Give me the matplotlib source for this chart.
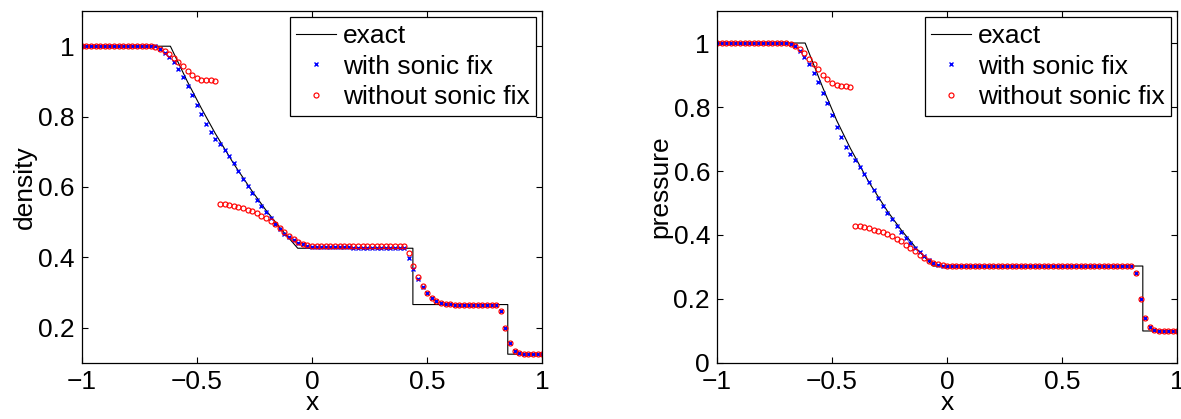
import numpy as np
import matplotlib.pyplot as plt

plt.rcParams["font.family"] = ["Liberation Sans", "DejaVu Sans"]

# -------------------------------------------------
# Data (grid x = -1 : 0.02 : 1)
# -------------------------------------------------

x_grid = np.linspace(-1.0, 1.0, 101)

density_fix = (
    [1.0] * 16
    + [1.0, 0.993, 0.982, 0.968, 0.954, 0.935, 0.912, 0.887, 0.861, 0.834,
       0.807, 0.780, 0.755, 0.735, 0.721, 0.706, 0.687, 0.667, 0.646, 0.624,
       0.602, 0.582, 0.563, 0.546, 0.529, 0.512, 0.495, 0.481, 0.467, 0.457,
       0.448, 0.442, 0.437, 0.433, 0.430, 0.429, 0.429, 0.429, 0.429, 0.429,
       0.429, 0.429, 0.429, 0.428, 0.428, 0.428, 0.428, 0.428, 0.427, 0.427,
       0.427, 0.427, 0.426, 0.426, 0.426, 0.399, 0.366, 0.338, 0.317, 0.299,
       0.286, 0.277, 0.271, 0.268, 0.267, 0.266, 0.266, 0.266, 0.266, 0.266,
       0.266, 0.266, 0.266, 0.266, 0.266, 0.249, 0.198, 0.157, 0.135, 0.128,
       0.126, 0.125, 0.125, 0.125, 0.125]
)

density_nofix = (
    [1.0] * 16
    + [0.999, 0.993, 0.986, 0.977, 0.967, 0.955, 0.943, 0.931, 0.919, 0.911,
       0.905, 0.904, 0.903, 0.901, 0.551, 0.551, 0.549, 0.546, 0.543, 0.540,
       0.536, 0.532, 0.526, 0.519, 0.512, 0.503, 0.494, 0.483, 0.472, 0.462,
       0.451, 0.443, 0.437, 0.434, 0.432, 0.433, 0.433, 0.433, 0.433, 0.433,
       0.433, 0.433, 0.433, 0.433, 0.433, 0.433, 0.433, 0.433, 0.433, 0.433,
       0.433, 0.433, 0.433, 0.433, 0.433, 0.412, 0.376, 0.345, 0.318, 0.299,
       0.286, 0.277, 0.271, 0.268, 0.267, 0.266, 0.266, 0.266, 0.266, 0.266,
       0.266, 0.266, 0.266, 0.266, 0.266, 0.249, 0.198, 0.157, 0.135, 0.128,
       0.126, 0.125, 0.125, 0.125, 0.125]
)

pressure_fix = (
    [1.0] * 16
    + [0.997, 0.990, 0.974, 0.955, 0.933, 0.906, 0.877, 0.845, 0.812, 0.775,
       0.739, 0.705, 0.675, 0.654, 0.634, 0.614, 0.591, 0.567, 0.540, 0.515,
       0.491, 0.468, 0.449, 0.428, 0.409, 0.392, 0.376, 0.360, 0.347, 0.334,
       0.323, 0.312, 0.307, 0.304, 0.303, 0.303, 0.303, 0.303, 0.303, 0.303,
       0.303, 0.303, 0.303, 0.303, 0.303, 0.303, 0.303, 0.303, 0.303, 0.303,
       0.303, 0.303, 0.303, 0.303, 0.303, 0.303, 0.303, 0.303, 0.303, 0.303,
       0.303, 0.303, 0.303, 0.303, 0.303, 0.303, 0.303, 0.303, 0.303, 0.303,
       0.303, 0.303, 0.303, 0.303, 0.303, 0.280, 0.201, 0.142, 0.112, 0.102,
       0.100, 0.100, 0.100, 0.100, 0.100]
)

pressure_nofix = (
    [1.0] * 16
    + [0.997, 0.991, 0.981, 0.968, 0.951, 0.934, 0.918, 0.900, 0.886, 0.874,
       0.868, 0.866, 0.866, 0.864, 0.428, 0.427, 0.425, 0.422, 0.417, 0.413,
       0.408, 0.403, 0.397, 0.389, 0.380, 0.369, 0.359, 0.349, 0.338, 0.329,
       0.320, 0.313, 0.309, 0.306, 0.304, 0.304, 0.304, 0.304, 0.304, 0.304,
       0.304, 0.304, 0.304, 0.304, 0.304, 0.304, 0.304, 0.304, 0.304, 0.304,
       0.304, 0.304, 0.304, 0.304, 0.304, 0.304, 0.304, 0.304, 0.304, 0.304,
       0.304, 0.304, 0.304, 0.304, 0.304, 0.304, 0.304, 0.304, 0.304, 0.304,
       0.304, 0.304, 0.304, 0.304, 0.304, 0.280, 0.201, 0.142, 0.112, 0.102,
       0.100, 0.100, 0.100, 0.100, 0.100]
)

exact_x_density = [-1.0, -0.615, -0.54, -0.48, -0.42, -0.34, -0.26, -0.20,
                   -0.13, -0.062, 0.438, 0.438, 0.850, 0.850, 1.0]
exact_density = [1.0, 1.0, 0.898, 0.823, 0.752, 0.666, 0.588, 0.534,
                 0.477, 0.426, 0.426, 0.266, 0.266, 0.125, 0.125]

exact_x_pressure = [-1.0, -0.617, -0.54, -0.48, -0.42, -0.34, -0.26, -0.20,
                    -0.13, -0.061, 0.850, 0.850, 1.0]
exact_pressure = [1.0, 1.0, 0.860, 0.758, 0.670, 0.565, 0.475, 0.416,
                  0.355, 0.303, 0.303, 0.100, 0.100]

x_ticks = [-1, -0.5, 0, 0.5, 1]
x_tick_labels = ["\u22121", "\u22120.5", "0", "0.5", "1"]

density_ticks = [0.2, 0.4, 0.6, 0.8, 1]
density_tick_labels = ["0.2", "0.4", "0.6", "0.8", "1"]

pressure_ticks = [0, 0.2, 0.4, 0.6, 0.8, 1]
pressure_tick_labels = ["0", "0.2", "0.4", "0.6", "0.8", "1"]


# -------------------------------------------------
# Figure
# -------------------------------------------------

fig = plt.figure(figsize=(11.81, 4.19), dpi=100)

ax_left = fig.add_axes([0.0692, 0.1337, 0.3900, 0.8400])
ax_right = fig.add_axes([0.6071, 0.1337, 0.3898, 0.8400])

panels = [
    (ax_left, exact_x_density, exact_density, density_fix, density_nofix,
     "density", (0.1, 1.1), density_ticks, density_tick_labels),
    (ax_right, exact_x_pressure, exact_pressure, pressure_fix, pressure_nofix,
     "pressure", (0.0, 1.1), pressure_ticks, pressure_tick_labels),
]

for ax, ex_x, ex_y, fix, nofix, ylabel, ylim, yticks, ylabels in panels:

    ax.plot(ex_x, ex_y, color="black", linewidth=0.8, label="exact")

    ax.plot(
        x_grid, fix,
        linestyle="none", marker="x", markersize=2.7,
        markeredgewidth=1.0, color="blue",
        label="with sonic fix"
    )

    ax.plot(
        x_grid, nofix,
        linestyle="none", marker="o", markersize=3.6,
        markeredgewidth=0.85, markerfacecolor="none",
        markeredgecolor="red",
        label="without sonic fix"
    )

    ax.set_xlim(-1, 1)
    ax.set_ylim(*ylim)

    ax.set_xticks(x_ticks)
    ax.set_xticklabels(x_tick_labels)
    ax.set_yticks(yticks)
    ax.set_yticklabels(ylabels)

    ax.tick_params(
        direction="in", length=4, width=0.8,
        top=True, right=True, labelsize=19, pad=5
    )

    for spine in ax.spines.values():
        spine.set_linewidth(0.9)

    ax.set_xlabel("x", fontsize=19, labelpad=-2)
    ax.set_ylabel(ylabel, fontsize=19, labelpad=1)

    legend = ax.legend(
        loc="upper right",
        fontsize=19,
        frameon=True,
        fancybox=False,
        framealpha=1,
        edgecolor="black",
        borderaxespad=0.24,
        borderpad=0.25,
        labelspacing=0.25,
        handlelength=1.5,
        handletextpad=0.25,
    )
    legend.get_frame().set_linewidth(0.9)

fig.savefig("out.png", dpi=100)
